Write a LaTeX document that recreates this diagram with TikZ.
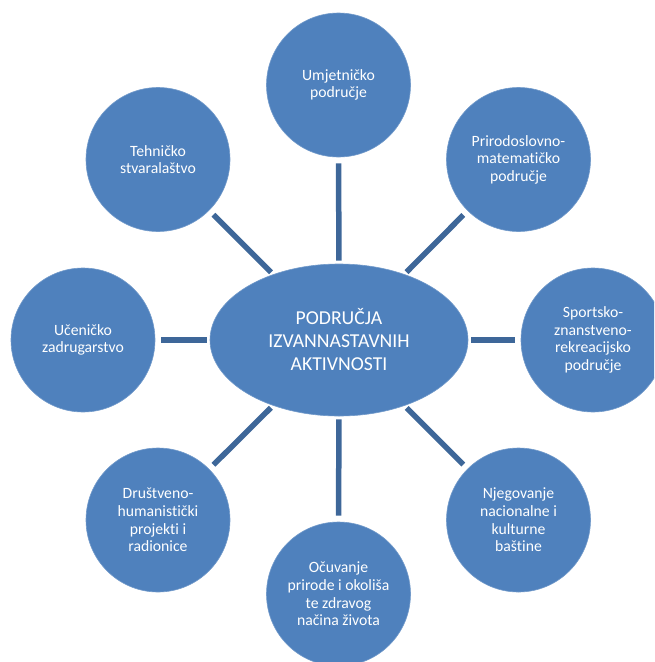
\documentclass[tikz,border=0pt]{standalone}
\usepackage{fontspec}
\setmainfont{Carlito}[Ligatures={NoCommon}]
\usetikzlibrary{shapes.geometric}
\definecolor{fillblue}{HTML}{4F81BD}
\definecolor{linkblue}{HTML}{3E6799}
\begin{document}
\begin{tikzpicture}[x=1pt,y=-1pt,
  bub/.style={circle, fill=fillblue, draw=fillblue!80!white, line width=0.6pt,
    minimum size=144pt, inner sep=0pt, text=white, align=center,
    font=\fontsize{15.7}{17.6}\selectfont},
  hub/.style={ellipse, fill=fillblue, draw=fillblue!80!white, line width=0.6pt,
    minimum width=258pt, minimum height=152pt, inner sep=0pt, text=white,
    align=center, font=\fontsize{19.7}{23}\selectfont},
  link/.style={draw=linkblue, line width=5.5pt, shorten <=3pt, shorten >=6pt}]
\useasboundingbox (0,0) rectangle (654,662);
\clip (0,0) rectangle (654,662);
\node[hub] (hub) at (339,340) {PODRUČJA\\IZVANNASTAVNIH\\AKTIVNOSTI};
\node[bub] (top) at (338.5,85) {Umjetničko\\područje};
\node[bub] (tl) at (158,159.5) {Tehničko\\stvaralaštvo};
\node[bub] (tr) at (518.5,159.5) {Prirodoslovno-\\matematičko\\područje};
\node[bub] (l) at (83,340) {Učeničko\\zadrugarstvo};
\node[bub] (r) at (593,340) {Sportsko-\\znanstveno-\\rekreacijsko\\područje};
\node[bub] (bl) at (158,520) {Društveno-\\humanistički\\projekti i\\radionice};
\node[bub] (br) at (518.5,520) {Njegovanje\\nacionalne i\\kulturne\\baštine};
\node[bub] (b) at (338.5,594) {Očuvanje\\prirode i okoliša\\te zdravog\\načina života};
\foreach \n in {top,tl,tr,l,r,bl,br,b}
  \draw[link] (hub) -- (\n);
\end{tikzpicture}
\end{document}
